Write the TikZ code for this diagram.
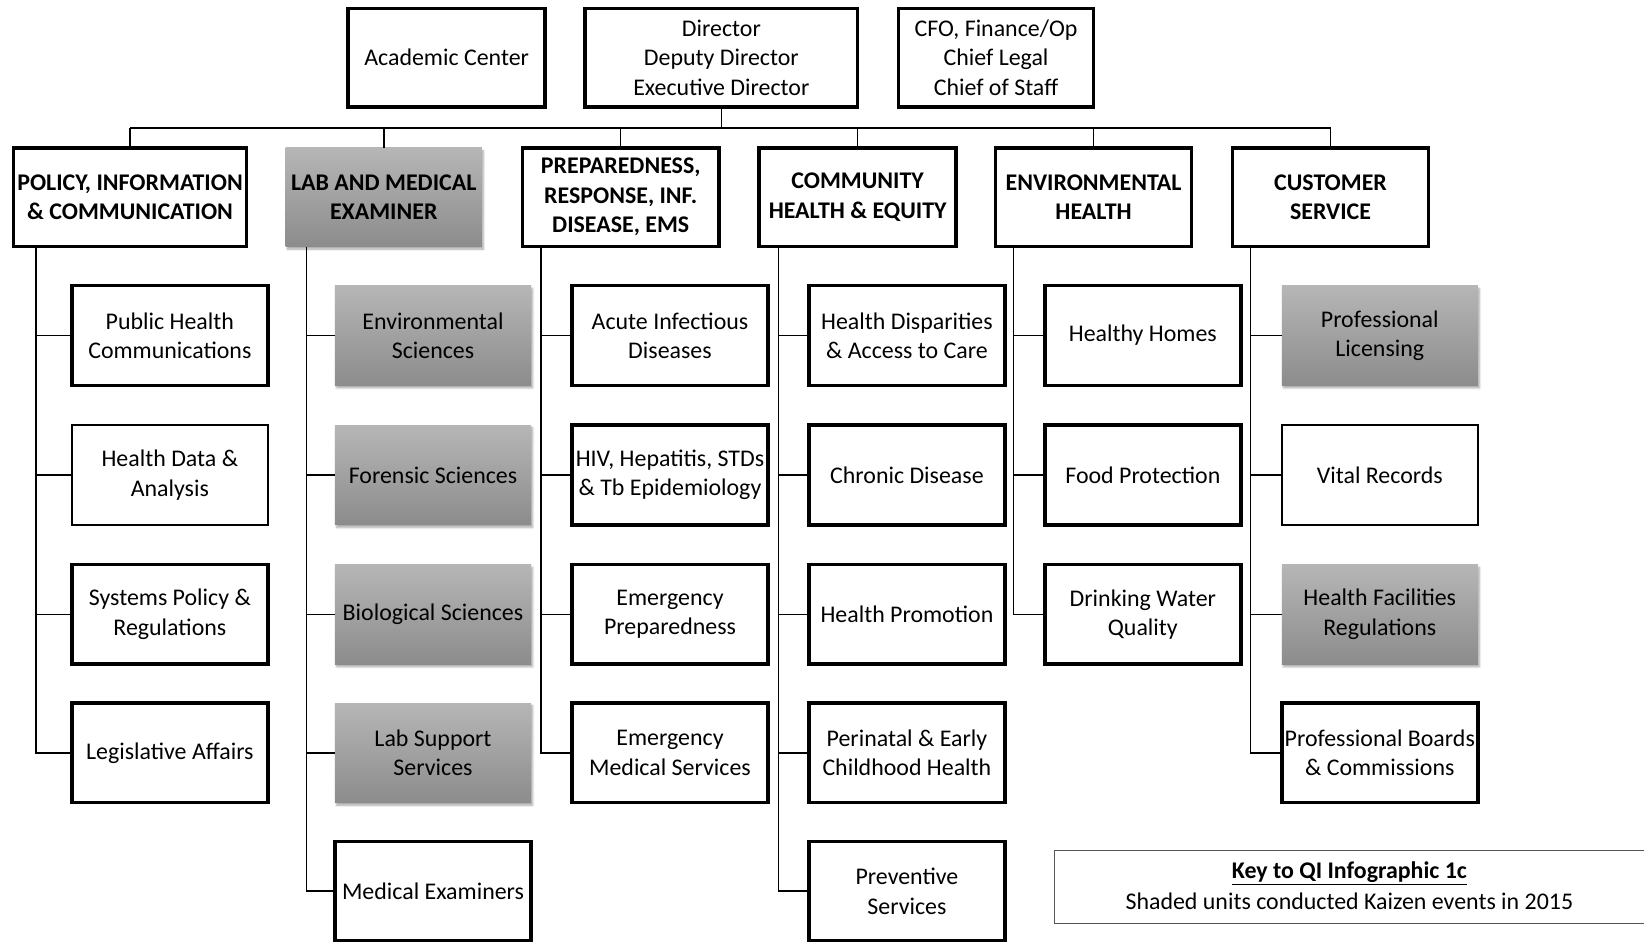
\documentclass[tikz,border=0pt]{standalone}
\usepackage{fontspec}
\setmainfont{Carlito}
\usetikzlibrary{shadows.blur}
\definecolor{shadetop}{HTML}{B6B6B6}
\definecolor{shadebot}{HTML}{8C8C8C}
\definecolor{keyline}{HTML}{555555}
\begin{document}
\begin{tikzpicture}[x=1pt,y=-1pt,
  every node/.style={font=\fontsize{22.8}{28}\selectfont, align=center, inner sep=0pt},
  unit/.style={draw, line width=3.4pt, fill=white, minimum width=187pt, minimum height=95pt},
  thinunit/.style={draw, line width=1.4pt, fill=white, minimum width=187pt, minimum height=95pt},
  shaded/.style={top color=shadetop, bottom color=shadebot, minimum width=187pt, minimum height=95pt,
    blur shadow={shadow xshift=1.5pt, shadow yshift=-2.5pt, shadow blur steps=6, shadow opacity=35}},
  head/.style={unit, font=\fontsize{22.8}{28}\selectfont\bfseries, minimum height=94pt},
  shadedhead/.style={shaded, font=\fontsize{22.8}{28}\selectfont\bfseries, minimum height=94pt},
  top/.style={unit, minimum height=94pt},
  link/.style={line width=1.5pt}
]
\useasboundingbox (0,0) rectangle (1568,898);

% executive row
\node[top, minimum width=188pt] (acad) at (426,55) {Academic Center};
\node[top, minimum width=260pt] (dir) at (688,55) {Director\\Deputy Director\\Executive Director};
\node[top, minimum width=186pt] (cfo) at (950,55) {CFO, Finance/Op\\Chief Legal\\Chief of Staff};

% divisions
\node[head, minimum width=222pt] (pol) at (124,188) {POLICY, INFORMATION\\\& COMMUNICATION};
\node[shadedhead, minimum width=187pt] (lab) at (366,188) {LAB AND MEDICAL\\EXAMINER};
\node[head, minimum width=187pt] (prep) at (592,188) {PREPAREDNESS,\\RESPONSE, INF.\\DISEASE, EMS};
\node[head, minimum width=188pt] (comm) at (818,188) {COMMUNITY\\HEALTH \& EQUITY};
\node[head, minimum width=187pt] (env) at (1043,188) {ENVIRONMENTAL\\HEALTH};
\node[head, minimum width=187pt] (cust) at (1269,188) {CUSTOMER\\SERVICE};

% bus from the director's office to the divisions
\coordinate (bus) at (0,122);
\draw[link] (dir.south) -- (dir.south |- bus);
\draw[link] (pol.north |- bus) -- (cust.north |- bus);
\foreach \h in {pol,lab,prep,comm,env,cust}
  \draw[link] (\h.north) -- (\h.north |- bus);

% units: policy, information & communication
\node[unit] (pol1) at (162,320) {Public Health\\Communications};
\node[thinunit] (pol2) at (162,453) {Health Data \&\\Analysis};
\node[unit] (pol3) at (162,586) {Systems Policy \&\\Regulations};
\node[unit] (pol4) at (162,718) {Legislative Affairs};

% units: lab and medical examiner
\node[shaded] (lab1) at (413,320) {Environmental\\Sciences};
\node[shaded] (lab2) at (413,453) {Forensic Sciences};
\node[shaded] (lab3) at (413,586) {Biological Sciences};
\node[shaded] (lab4) at (413,718) {Lab Support\\Services};
\node[unit] (lab5) at (413,850) {Medical Examiners};

% units: preparedness, response, infectious disease, EMS
\node[unit] (prep1) at (639,320) {Acute Infectious\\Diseases};
\node[unit] (prep2) at (639,453) {HIV, Hepatitis, STDs\\\& Tb Epidemiology};
\node[unit] (prep3) at (639,586) {Emergency\\Preparedness};
\node[unit] (prep4) at (639,718) {Emergency\\Medical Services};

% units: community health & equity
\node[unit] (comm1) at (865,320) {Health Disparities\\\& Access to Care};
\node[unit] (comm2) at (865,453) {Chronic Disease};
\node[unit] (comm3) at (865,586) {Health Promotion};
\node[unit] (comm4) at (865,718) {Perinatal \& Early\\Childhood Health};
\node[unit] (comm5) at (865,850) {Preventive\\Services};

% units: environmental health
\node[unit] (env1) at (1090,320) {Healthy Homes};
\node[unit] (env2) at (1090,453) {Food Protection};
\node[unit] (env3) at (1090,586) {Drinking Water\\Quality};

% units: customer service
\node[shaded] (cust1) at (1316,320) {Professional\\Licensing};
\node[thinunit] (cust2) at (1316,453) {Vital Records};
\node[shaded] (cust3) at (1316,586) {Health Facilities\\Regulations};
\node[unit] (cust4) at (1316,718) {Professional Boards\\\& Commissions};

% spines down each division and branches to its units
\foreach \h/\n/\dx in {pol/4/23, lab/5/20, prep/4/19, comm/5/20, env/3/19, cust/4/19} {
  \coordinate (\h spine) at ([xshift=\dx pt]\h.south west);
  \draw[link] (\h spine) -- (\h spine |- \h\n.west) -- (\h\n.west);
  \foreach \i in {1,...,\n}
    \draw[link] (\h spine |- \h\i.west) -- (\h\i.west);
}

% key
\draw[keyline, line width=1.3pt] (1580,811) -- (1006,811) -- (1006,881) -- (1580,881);
\node (keytitle) at (1287,833) {\underline{\textbf{Key to QI Infographic 1c}}};
\node (keytext) at (1287,860) {Shaded units conducted Kaizen events in 2015};
\end{tikzpicture}
\end{document}
